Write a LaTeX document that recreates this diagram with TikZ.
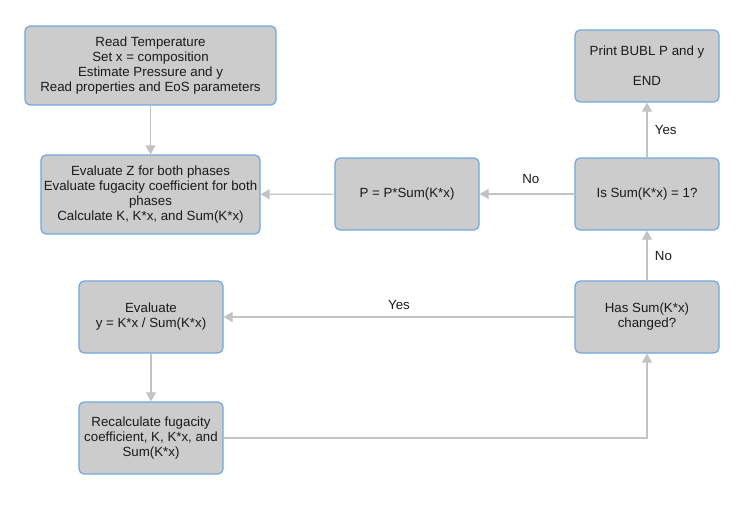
\documentclass[tikz,border=0pt]{standalone}
\usepackage{fontspec}
\setmainfont{Liberation Sans}
\usetikzlibrary{arrows.meta}
\definecolor{boxfill}{HTML}{CCCCCC}
\definecolor{boxline}{HTML}{6FA8DC}
\definecolor{arrowc}{HTML}{C3C3C3}
\definecolor{txt}{HTML}{1A1A1A}
\begin{document}
\begin{tikzpicture}[x=1pt,y=-1pt,
  box/.style={draw=boxline,fill=boxfill,line width=1.2pt,rounded corners=5pt,
    align=center,inner sep=0pt,font=\fontsize{13.3}{15}\selectfont,text=txt},
  conn/.style={draw=arrowc,line width=1.2pt,-{Triangle[length=9pt,width=10pt]}},
  lbl/.style={font=\fontsize{13.3}{15}\selectfont,text=txt}]
\useasboundingbox (0,0) rectangle (741,516);
\node[box,minimum width=251pt,minimum height=79pt] (A) at (150.5,65.5)
  {Read Temperature\\Set x = composition\\Estimate Pressure and y\\Read properties and EoS parameters};
\node[box,minimum width=219pt,minimum height=79pt] (B) at (150.5,194.5)
  {Evaluate Z for both phases\\Evaluate fugacity coefficient for both\\phases\\Calculate K, K*x, and Sum(K*x)};
\node[box,minimum width=144pt,minimum height=72pt] (C) at (407,194) {P = P*Sum(K*x)};
\node[box,minimum width=144pt,minimum height=72pt] (D) at (647,194) {Is Sum(K*x) = 1?};
\node[box,minimum width=144pt,minimum height=72pt,font=\fontsize{13.3}{30}\selectfont] (E) at (647,66) {Print BUBL P and y\\END};
\node[box,minimum width=144pt,minimum height=72pt] (F) at (151,317) {Evaluate\\y = K*x / Sum(K*x)};
\node[box,minimum width=144pt,minimum height=72pt] (G) at (647,317) {Has Sum(K*x)\\changed?};
\node[box,minimum width=144pt,minimum height=72pt] (H) at (151,438) {Recalculate fugacity\\coefficient, K, K*x, and\\Sum(K*x)};
\coordinate (HG) at (647,438);
\draw[conn] (A) -- (B);
\draw[conn] (C) -- (B);
\draw[conn] (D) -- node[lbl,pos=0.46,above=6pt] (noA) {No} (C);
\draw[conn] (D) -- node[lbl,right=4pt] (yesA) {Yes} (E);
\draw[conn] (G) -- node[lbl,right=4pt] (noB) {No} (D);
\draw[conn] (G) -- node[lbl,above=3pt] (yesB) {Yes} (F);
\draw[conn] (F) -- (H);
\draw[conn] (H) -- (HG) -- (G);
\end{tikzpicture}
\end{document}
